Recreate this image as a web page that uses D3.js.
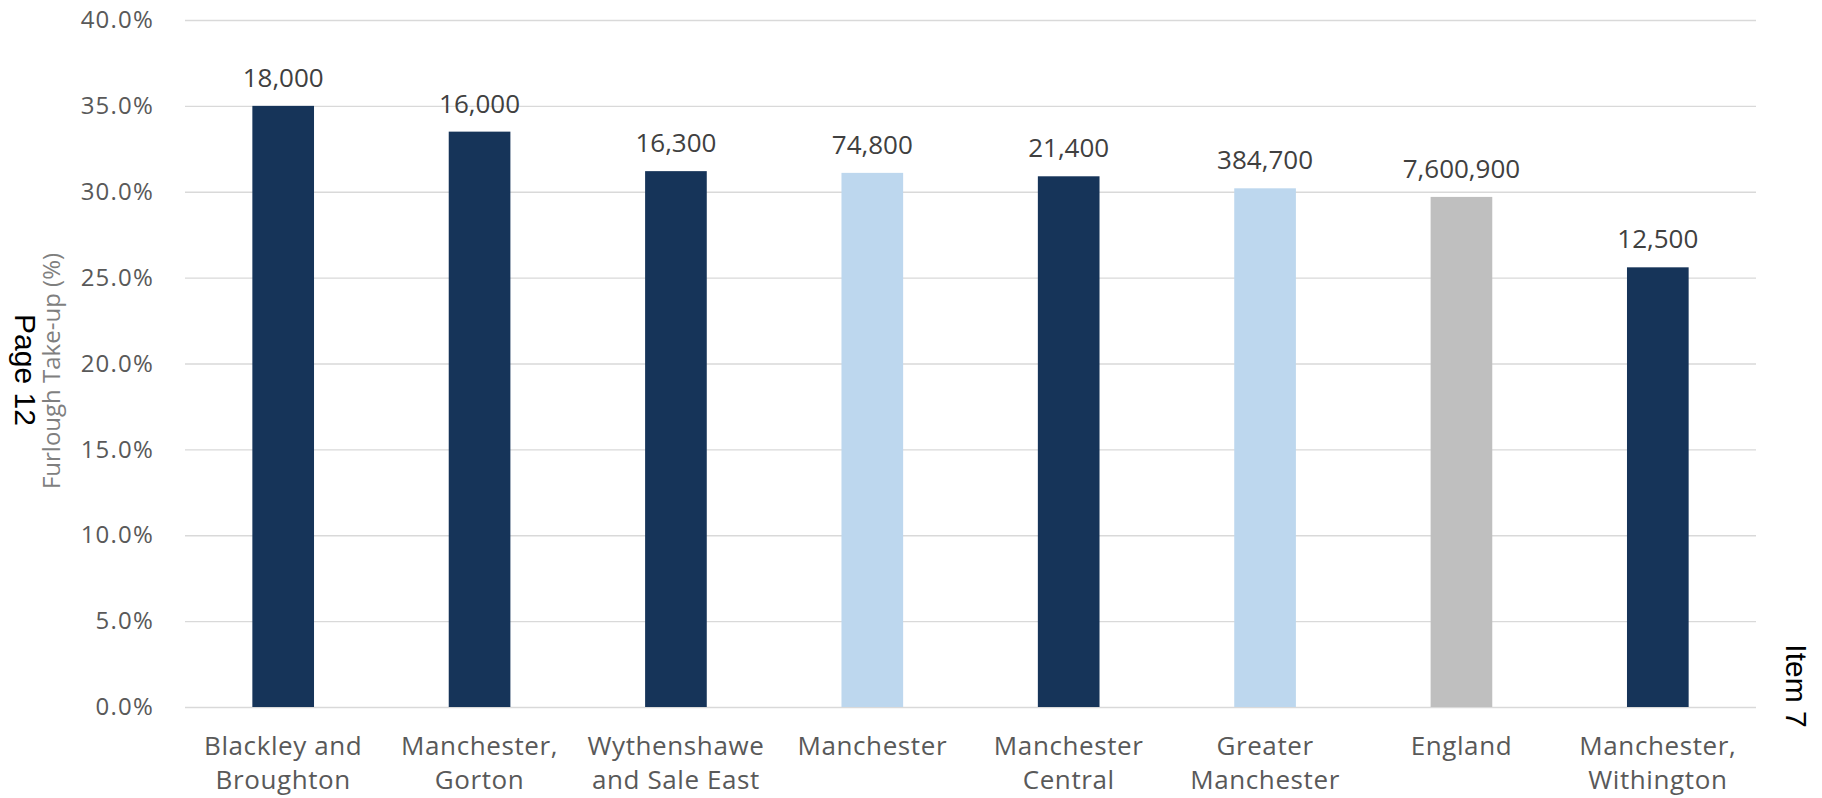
<!DOCTYPE html>
<html>
<head>
<meta charset="utf-8">
<script src="https://cdn.jsdelivr.net/npm/d3@7"></script>
<style>
  html, body { margin: 0; padding: 0; background: #ffffff; }
  svg { display: block; }
  .tick text { font-family: "Open Sans", sans-serif; }
</style>
</head>
<body>
<svg id="chart" width="1822" height="798"></svg>
<script>
// Furlough take-up by area, with the number of furloughed jobs above each bar
const categories = [
  "Blackley and Broughton",
  "Manchester, Gorton",
  "Wythenshawe and Sale East",
  "Manchester",
  "Manchester Central",
  "Greater Manchester",
  "England",
  "Manchester, Withington"
];
const takeUp = [35.0, 33.5, 31.2, 31.1, 30.9, 30.2, 29.7, 25.6];
const furloughed = [18000, 16000, 16300, 74800, 21400, 384700, 7600900, 12500];
const areaType = ["constituency", "constituency", "constituency", "city",
                  "constituency", "region", "nation", "constituency"];
const yTicks = [0, 5, 10, 15, 20, 25, 30, 35, 40];

const typeColour = {
  constituency: "#163459",
  city: "#bdd7ee",
  region: "#bdd7ee",
  nation: "#bfbfbf"
};

const svg = d3.select("#chart");
const margin = { left: 185, right: 66, top: 20, bottom: 91 };
const W = 1822, H = 798;
const innerW = W - margin.left - margin.right;
const innerH = H - margin.top - margin.bottom;

const g = svg.append("g").attr("transform", `translate(${margin.left},${margin.top})`);

const x = d3.scaleBand().domain(categories).range([0, innerW]).paddingInner(0.686).paddingOuter(0.343);
const y = d3.scaleLinear().domain([0, 40]).range([innerH, 0]);

// Gridlines + percentage tick labels
const yAxis = d3.axisLeft(y)
  .tickValues(yTicks)
  .tickSize(-innerW)
  .tickPadding(31)
  .tickFormat(d => d3.format(".1f")(d) + "%");

const yg = g.append("g").call(yAxis);
yg.select(".domain").remove();
yg.selectAll(".tick line").attr("stroke", "#d9d9d9").attr("stroke-width", 1.4);
yg.selectAll(".tick text")
  .attr("fill", "#595959")
  .style("font-size", "24px")
  .style("letter-spacing", "1.2px");

// Bars
const data = categories.map((c, i) => ({ c, v: takeUp[i], n: furloughed[i], t: areaType[i] }));

g.selectAll("rect.bar").data(data).join("rect")
  .attr("class", "bar")
  .attr("x", d => x(d.c))
  .attr("width", x.bandwidth())
  .attr("y", d => y(d.v))
  .attr("height", d => innerH - y(d.v))
  .attr("fill", d => typeColour[d.t]);

// Value labels (furloughed jobs)
g.selectAll("text.val").data(data).join("text")
  .attr("class", "val")
  .attr("x", d => x(d.c) + x.bandwidth() / 2)
  .attr("y", d => y(d.v) - 19)
  .attr("text-anchor", "middle")
  .attr("fill", "#404040")
  .style("font-family", "'Open Sans', sans-serif")
  .style("font-size", "26px")
  .text(d => d3.format(",")(d.n));

// Category labels, wrapped to the band width
const xg = g.append("g").attr("transform", `translate(0,${innerH})`);
const maxW = x.step() - 12;
data.forEach(d => {
  const t = xg.append("text")
    .attr("x", x(d.c) + x.bandwidth() / 2)
    .attr("y", 48)
    .attr("text-anchor", "middle")
    .attr("fill", "#595959")
    .style("font-family", "'Open Sans', sans-serif")
    .style("font-size", "26px")
    .style("letter-spacing", "0.6px");
  const words = d.c.split(" ");
  let lines = [], cur = [];
  words.forEach(w => {
    const trial = cur.concat(w).join(" ");
    t.text(trial);
    if (cur.length && t.node().getComputedTextLength() > maxW) {
      lines.push(cur.join(" "));
      cur = [w];
    } else {
      cur.push(w);
    }
  });
  lines.push(cur.join(" "));
  t.text(null);
  lines.forEach((l, i) => {
    t.append("tspan")
      .attr("x", x(d.c) + x.bandwidth() / 2)
      .attr("dy", i === 0 ? 0 : 34)
      .text(l);
  });
});

// Axis title
svg.append("text")
  .attr("transform", "translate(60,371) rotate(-90)")
  .attr("text-anchor", "middle")
  .attr("fill", "#7f7f7f")
  .style("font-family", "'Open Sans', sans-serif")
  .style("font-size", "24px")
  .text("Furlough Take-up (%)");

// Page margin annotations
svg.append("text")
  .attr("transform", "translate(15,370) rotate(90)")
  .attr("text-anchor", "middle")
  .attr("fill", "#000000")
  .style("font-family", "'Liberation Sans', Arial, sans-serif")
  .style("font-size", "30px")
  .text("Page 12");

svg.append("text")
  .attr("transform", "translate(1786,686) rotate(90)")
  .attr("text-anchor", "middle")
  .attr("fill", "#000000")
  .style("font-family", "'Liberation Sans', Arial, sans-serif")
  .style("font-size", "30px")
  .text("Item 7");
</script>
</body>
</html>
